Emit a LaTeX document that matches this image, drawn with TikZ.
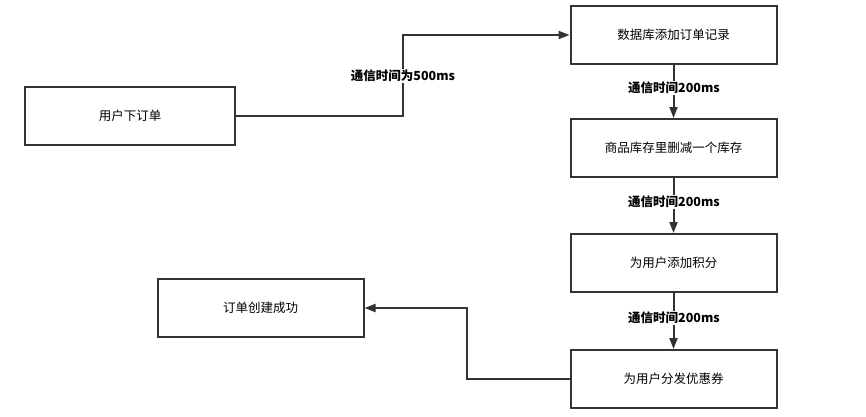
\documentclass[tikz,border=0pt]{standalone}
\usepackage{fontspec}
\setmainfont{Noto Sans CJK SC}
\usetikzlibrary{arrows.meta}
\begin{document}
\begin{tikzpicture}[x=1pt,y=-1pt,
  stepbox/.style={draw=black!80, line width=2pt, minimum width=206pt, minimum height=58pt, inner sep=0pt, font=\fontsize{12.5}{14}\selectfont},
  conn/.style={draw=black!80, line width=2pt, -{Triangle[length=11pt,width=8pt]}},
  lbl/.style={fill=white, inner sep=1pt, font=\fontsize{12.5}{14}\selectfont\bfseries}]
\useasboundingbox (0,0) rectangle (866,416);
\node[stepbox, minimum width=210pt] (order) at (130,116) {用户下订单};
\node[stepbox] (db) at (673.5,35) {数据库添加订单记录};
\node[stepbox] (stock) at (673.5,148) {商品库存里删减一个库存};
\node[stepbox] (points) at (673.5,263) {为用户添加积分};
\node[stepbox] (coupon) at (673.5,379) {为用户分发优惠券};
\node[stepbox] (done) at (260.5,307.5) {订单创建成功};
\coordinate (c1) at (403,116);
\coordinate (c2) at (403,35);
\coordinate (c3) at (467,379);
\coordinate (c4) at (467,308);
\draw[conn] (order.east) -- (c1) -- (c2) -- (db.west);
\node[lbl] at (403,76) {通信时间为500ms};
\draw[conn] (db) -- (stock);
\node[lbl] at (674,88) {通信时间200ms};
\draw[conn] (stock) -- (points);
\node[lbl] at (674,202) {通信时间200ms};
\draw[conn] (points) -- (coupon);
\node[lbl] at (674,318) {通信时间200ms};
\draw[conn] (coupon.west) -- (c3) -- (c4) -- (done.east |- c4);
\end{tikzpicture}
\end{document}
